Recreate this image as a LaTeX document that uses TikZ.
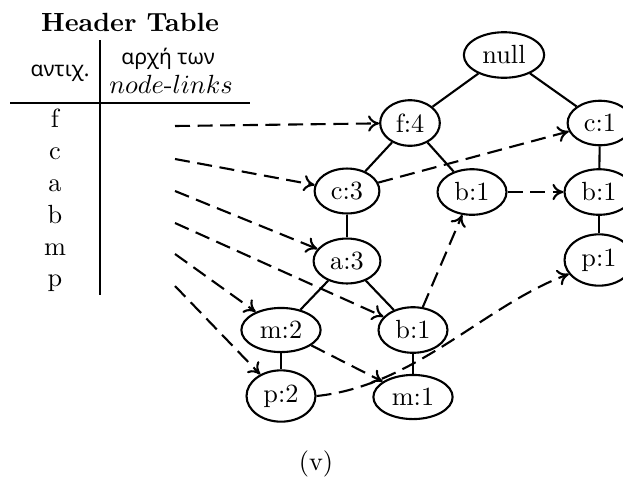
\documentclass[tikz,border=0pt]{standalone}
\usepackage{fontspec}
\usetikzlibrary{shapes.geometric, arrows.meta}
\newfontfamily\greekfont[Scale=0.8]{Noto Sans}
\begin{document}
\begin{tikzpicture}[x=0.3802pt, y=-0.3802pt,
  fpnode/.style={ellipse, draw, thick, inner sep=2.6pt},
  treeedge/.style={thick},
  linkarrow/.style={thick, -{To[length=4.2pt, width=6.2pt]}, dash pattern=on 5.7pt off 2.9pt},
  rowlabel/.style={anchor=base, inner sep=0pt}]
\useasboundingbox (0,0) rectangle (623,477);

% header table
\node[anchor=base, inner sep=0pt] (title) at (130,31) {\textbf{Header Table}};
\node[anchor=base, inner sep=0pt] (colitem) at (60,76) {\greekfont αντιχ.};
\node[anchor=base, inner sep=0pt] (colhead) at (168,64) {\greekfont αρχή των};
\node[anchor=base, inner sep=0pt] (colsub) at (171,93) {$node$-$links$};
\draw[thin] (100,40) coordinate (vtop) -- (100,295) coordinate (vbot);
\draw[thin] (10,103) coordinate (hl) -- (250,103) coordinate (hr);

\node[rowlabel] (rf) at (55,127) {f};
\node[rowlabel] (rc) at (55,159) {c};
\node[rowlabel] (ra) at (55,191) {a};
\node[rowlabel] (rb) at (55,223) {b};
\node[rowlabel] (rm) at (55,255) {m};
\node[rowlabel] (rp) at (55,286) {p};

\coordinate (sf) at (175,126);
\coordinate (sc) at (175,159);
\coordinate (sa) at (175,191);
\coordinate (sb) at (175,223);
\coordinate (sm) at (175,254);
\coordinate (sp) at (175,286);

% FP-tree nodes
\node[fpnode] (null) at (504,55) {null};
\node[fpnode] (f4) at (410,123) {f:4};
\node[fpnode] (c1) at (600,123) {c:1};
\node[fpnode] (c3) at (347,191) {c:3};
\node[fpnode] (b1m) at (472,192) {b:1};
\node[fpnode] (b1r) at (599,192) {b:1};
\node[fpnode] (a3) at (347,261) {a:3};
\node[fpnode] (p1) at (599,260) {p:1};
\node[fpnode] (m2) at (281,330) {m:2};
\node[fpnode] (b1l) at (413,330) {b:1};
\node[fpnode] (p2) at (281,396) {p:2};
\node[fpnode] (m1) at (413,397) {m:1};

% tree edges
\draw[treeedge] (null) -- (f4);
\draw[treeedge] (null) -- (c1);
\draw[treeedge] (f4) -- (c3);
\draw[treeedge] (f4) -- (b1m);
\draw[treeedge] (c3) -- (a3);
\draw[treeedge] (a3) -- (m2);
\draw[treeedge] (a3) -- (b1l);
\draw[treeedge] (m2) -- (p2);
\draw[treeedge] (b1l) -- (m1);
\draw[treeedge] (c1) -- (b1r);
\draw[treeedge] (b1r) -- (p1);

% node-links from the header table
\draw[linkarrow] (sf) -- (f4);
\draw[linkarrow] (sc) -- (c3);
\draw[linkarrow] (sa) -- (a3);
\draw[linkarrow] (sb) -- (b1l);
\draw[linkarrow] (sm) -- (m2);
\draw[linkarrow] (sp) -- (p2);

% node-links between items
\draw[linkarrow] (c3) -- (c1);
\draw[linkarrow] (b1l) -- (b1m);
\draw[linkarrow] (b1m) -- (b1r);
\draw[linkarrow] (m2) -- (m1);
\draw[linkarrow] (p2.east) .. controls (415,386) and (485,305) .. (p1.205);

\node[anchor=base, inner sep=0pt] (caption) at (316,470) {(v)};
\end{tikzpicture}
\end{document}
